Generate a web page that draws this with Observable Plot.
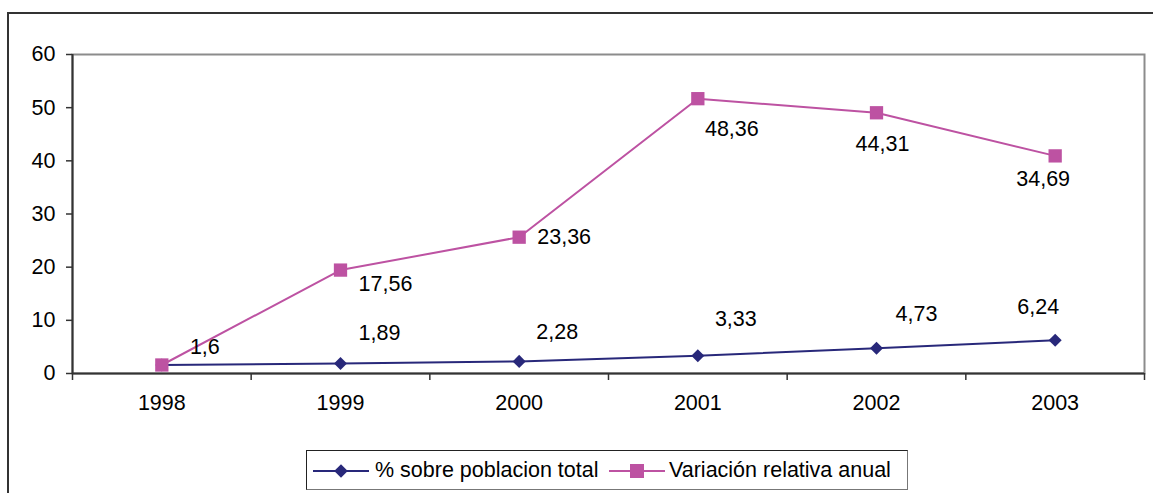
<!DOCTYPE html>
<html>
<head>
<meta charset="utf-8">
<script src="https://cdn.jsdelivr.net/npm/d3@7"></script>
<script src="https://cdn.jsdelivr.net/npm/@observablehq/plot@0.6"></script>
<style>
  body { margin: 0; background: #fff; }
  #wrap { position: relative; width: 1153px; height: 493px; overflow: hidden; font-family: "Liberation Sans", Arial, sans-serif; }
  #outer { position: absolute; left: 7px; top: 12px; width: 1300px; height: 700px; border: 2px solid #333; box-sizing: border-box; }
  #chart { position: absolute; left: 0; top: 0; }
  #legend { position: absolute; left: 306px; top: 450px; width: 602px; height: 40px; box-sizing: border-box;
            border: 1px solid #222; border-right-color: #777; border-bottom-color: #777; background: #fff;
            font-size: 21.5px; color: #000; white-space: nowrap; }
  #legend svg { position: absolute; top: 12px; }
  #legend span { position: absolute; top: 7px; line-height: 24px; }
</style>
</head>
<body>
<div id="wrap">
  <div id="outer"></div>
  <div id="chart"></div>
  <div id="legend"></div>
</div>
<script>
// ---- data ----
const years = ["1998", "1999", "2000", "2001", "2002", "2003"];
const pctPoblacion = [1.6, 1.89, 2.28, 3.33, 4.73, 6.24];          // % sobre poblacion total
const variacionAnual = [null, 17.56, 23.36, 48.36, 44.31, 34.69];  // Variación relativa anual (stacked on top)
const yTicks = [0, 10, 20, 30, 40, 50, 60];
const seriesNames = ["% sobre poblacion total", "Variación relativa anual"];

// ---- styling / label layout (not data) ----
const BLUE = "#28287a";
const PINK = "#bd52a2";
const FS = 21.5;
const blueLabelOffsets = [[43, -18], [39, -30], [38, -29], [38, -37], [40, -34], [-17, -33]];
const pinkLabelOffsets = [null, [45, 14], [45, 0], [34, 30], [6, 31], [-12, 23]];

const fmt = v => String(v).replace(".", ",");

const rows = years.map((year, i) => ({
  i, year,
  pct: pctPoblacion[i],
  varl: variacionAnual[i],
  stack: pctPoblacion[i] + (variacionAnual[i] ?? 0)
}));
const xc = d => d.i + 0.5;

const labelMarks = [];
rows.forEach((r, k) => {
  const bo = blueLabelOffsets[k];
  labelMarks.push(Plot.text([r], {x: xc, y: "pct", text: d => fmt(d.pct), dx: bo[0], dy: bo[1], fontSize: FS, fill: "#000"}));
  const po = pinkLabelOffsets[k];
  if (r.varl != null && po) {
    labelMarks.push(Plot.text([r], {x: xc, y: "stack", text: d => fmt(d.varl), dx: po[0], dy: po[1], fontSize: FS, fill: "#000"}));
  }
});

const chart = Plot.plot({
  width: 1153,
  height: 493,
  marginLeft: 72,
  marginRight: 9,
  marginTop: 54,
  marginBottom: 120,
  style: {fontFamily: "'Liberation Sans', Arial, sans-serif", fontSize: FS + "px", color: "#000", background: "transparent"},
  x: {type: "linear", domain: [0, years.length]},
  y: {domain: [0, 60]},
  marks: [
    Plot.frame({stroke: "#8c8c8c", strokeWidth: 2}),
    Plot.axisY({ticks: yTicks, tickSize: 6, tickPadding: 11, fontSize: FS, stroke: "#333", strokeWidth: 1.5, fill: "#000"}),
    Plot.axisX({ticks: d3.range(0, years.length + 1), tickSize: 7, tickFormat: () => "", stroke: "#333", strokeWidth: 1.5}),
    Plot.axisX({ticks: years.map((d, i) => i + 0.5), tickSize: 0, tickPadding: 21, tickFormat: v => years[Math.floor(v)], fontSize: FS, fill: "#000"}),
    Plot.ruleY([0], {stroke: "#333", strokeWidth: 2}),
    Plot.ruleX([0], {stroke: "#333", strokeWidth: 2}),
    Plot.line(rows, {x: xc, y: "pct", stroke: BLUE, strokeWidth: 2}),
    Plot.dot(rows, {x: xc, y: "pct", symbol: "square", rotate: 45, r: 5.2, fill: BLUE, stroke: "none"}),
    Plot.line(rows, {x: xc, y: "stack", stroke: PINK, strokeWidth: 2}),
    Plot.dot(rows, {x: xc, y: "stack", symbol: "square", r: 7.5, fill: PINK, stroke: "none"}),
    ...labelMarks
  ]
});
document.getElementById("chart").appendChild(chart);

// ---- legend (positions relative to legend box at x=306) ----
const legend = d3.select("#legend");
function item(name, color, kind, lineX, textX) {
  const s = legend.append("svg").attr("width", 56).attr("height", 16).style("left", lineX + "px");
  s.append("line").attr("x1", 0).attr("x2", 56).attr("y1", 8).attr("y2", 8).attr("stroke", color).attr("stroke-width", 2);
  if (kind === "diamond") {
    s.append("rect").attr("x", 28 - 4.8).attr("y", 8 - 4.8).attr("width", 9.6).attr("height", 9.6)
      .attr("fill", color).attr("transform", "rotate(45 28 8)");
  } else {
    s.append("rect").attr("x", 28 - 7).attr("y", 8 - 7).attr("width", 14).attr("height", 14).attr("fill", color);
  }
  legend.append("span").text(name).style("left", textX + "px");
}
item(seriesNames[0], BLUE, "diamond", 6, 68);
item(seriesNames[1], PINK, "square", 302, 362);
</script>
</body>
</html>
